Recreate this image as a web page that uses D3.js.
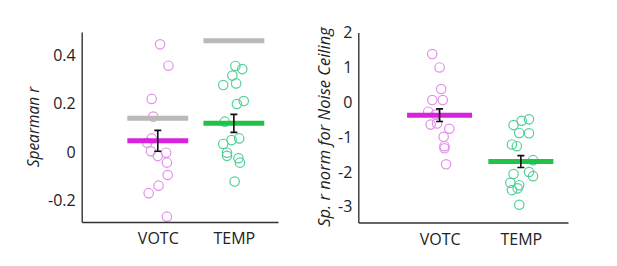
<!DOCTYPE html>
<html>
<head>
<meta charset="utf-8">
<script src="https://cdn.jsdelivr.net/npm/d3@7"></script>
<style>
  body { margin: 0; background: white; }
  text { font-family: "Open Sans", sans-serif; fill: #222; }
</style>
</head>
<body>
<div id="canvas"></div>
<script>
"use strict"

let svgWidth = 617
let svgHeight = 266

/* categories and tick labels */
let categories = ["VOTC", "TEMP"]
let leftTicks = [-0.2, 0, 0.2, 0.4]
let rightTicks = [-3, -2, -1, 0, 1, 2]

/* left panel: Spearman r per subject */
let leftVotc = [0.444, 0.356, 0.219, 0.146, 0.056, 0.038, 0.003, -0.017, -0.003, -0.044, -0.095, -0.139, -0.170, -0.267]
let leftVotcJitter = [0.03, 0.14, -0.08, -0.06, -0.08, -0.14, -0.09, 0, 0.11, 0.12, 0.13, 0.01, -0.12, 0.12]
let leftTemp = [0.355, 0.342, 0.315, 0.276, 0.283, 0.198, 0.210, 0.125, 0.056, 0.049, 0.033, -0.003, -0.016, -0.026, -0.044, -0.122]
let leftTempJitter = [0.02, 0.11, -0.02, -0.14, 0.03, 0.04, 0.13, -0.12, 0.07, -0.03, -0.14, -0.09, -0.09, 0.06, 0.08, 0.01]
let leftMeans = [0.046, 0.118]
let leftSE = [0.043, 0.037]
let leftCeiling = [0.139, 0.459]

/* right panel: normalised by noise ceiling */
let rightVotc = [1.385, 1.00, 0.38, 0.063, 0.063, -0.27, -0.35, -0.64, -0.61, -0.76, -0.99, -1.26, -1.32, -1.78]
let rightVotcJitter = [-0.09, 0, 0.02, -0.09, 0.04, -0.14, -0.05, -0.11, -0.03, 0.12, 0.05, 0.06, 0.06, 0.08]
let rightTemp = [-0.655, -0.53, -0.49, -0.88, -0.89, -1.21, -1.26, -1.66, -2.0, -2.12, -2.06, -2.31, -2.38, -2.47, -2.52, -2.94]
let rightTempJitter = [-0.09, 0.01, 0.10, -0.02, 0.10, -0.11, -0.05, 0.15, 0.10, 0.15, -0.09, -0.13, -0.02, -0.04, -0.11, -0.02]
let rightMeans = [-0.37, -1.70]
let rightSE = [0.18, 0.17]

let pointColors = ["#e290e8", "#52d097"]
let meanColors = ["#d823dc", "#20c24a"]
let ceilingColor = "#b9b9b9"

let svg = d3.select("#canvas")
    .append("svg")
    .attr("width", svgWidth)
    .attr("height", svgHeight)

function drawPanel(p) {
    let xScale = d3.scaleLinear()
        .domain([0, 2.58])
        .range([p.left, p.right])

    let yScale = d3.scaleLinear()
        .domain(p.domain)
        .range([p.bottom, p.top])

    let g = svg.append("g")

    // subject points
    p.points.forEach(function(vals, i) {
        g.selectAll("circle.pt" + i)
            .data(vals)
            .join("circle")
            .attr("class", "pt" + i)
            .attr("cx", function(d, j) { return xScale(i + 1 + p.jitter[i][j]) })
            .attr("cy", function(d) { return yScale(d) })
            .attr("r", 4.7)
            .attr("fill", "none")
            .attr("stroke", pointColors[i])
            .attr("stroke-width", 1.2)
    })

    // noise ceiling bars
    if (p.ceiling) {
        g.selectAll("line.ceiling")
            .data(p.ceiling)
            .join("line")
            .attr("class", "ceiling")
            .attr("x1", function(d, i) { return xScale(i + 1 - 0.4) })
            .attr("x2", function(d, i) { return xScale(i + 1 + 0.4) })
            .attr("y1", function(d) { return yScale(d) })
            .attr("y2", function(d) { return yScale(d) })
            .attr("stroke", ceilingColor)
            .attr("stroke-width", 5)
    }

    // mean bars
    g.selectAll("line.mean")
        .data(p.means)
        .join("line")
        .attr("class", "mean")
        .attr("x1", function(d, i) { return xScale(i + 1 - 0.4) })
        .attr("x2", function(d, i) { return xScale(i + 1 + 0.4) })
        .attr("y1", function(d) { return yScale(d) })
        .attr("y2", function(d) { return yScale(d) })
        .attr("stroke", function(d, i) { return meanColors[i] })
        .attr("stroke-width", 5)

    // error bars
    p.means.forEach(function(m, i) {
        let cx = xScale(i + 1)
        let lo = yScale(m - p.se[i])
        let hi = yScale(m + p.se[i])
        g.append("path")
            .attr("d", "M" + (cx - 3.5) + "," + hi + "H" + (cx + 3.5) +
                       "M" + cx + "," + hi + "V" + lo +
                       "M" + (cx - 3.5) + "," + lo + "H" + (cx + 3.5))
            .attr("fill", "none")
            .attr("stroke", "#111")
            .attr("stroke-width", 1.6)
    })

    // y axis
    let yAxis = g.append("g")
        .attr("transform", "translate(" + p.left + ",0)")
        .call(d3.axisLeft(yScale).tickValues(p.ticks).tickSize(0).tickPadding(6)
            .tickFormat(function(d) { return d === 0 ? "0" : String(d) }))
    yAxis.select(".domain").attr("stroke", "#333").attr("stroke-width", 1.4)
    yAxis.selectAll("text").style("font-size", "16px").attr("fill", "#222")

    // x axis
    let xAxis = g.append("g")
        .attr("transform", "translate(0," + p.bottom + ")")
        .call(d3.axisBottom(xScale).tickValues([1, 2]).tickSize(0).tickPadding(11)
            .tickFormat(function(d) { return categories[d - 1] }))
    xAxis.select(".domain").attr("stroke", "#333").attr("stroke-width", 1.4)
    xAxis.selectAll("text").style("font-size", "16px").attr("fill", "#222")

    // y label
    g.append("text")
        .attr("transform", "translate(" + p.labelX + "," + p.labelY + ") rotate(-90)")
        .attr("text-anchor", "middle")
        .attr("dominant-baseline", "central")
        .style("font-size", p.labelSize)
        .style("font-style", "italic")
        .text(p.label)
}

drawPanel({
    left: 81.7, right: 278, top: 32, bottom: 222,
    domain: [-0.289, 0.495],
    ticks: leftTicks,
    points: [leftVotc, leftTemp],
    jitter: [leftVotcJitter, leftTempJitter],
    means: leftMeans, se: leftSE, ceiling: leftCeiling,
    label: "Spearman r", labelX: 33, labelY: 127, labelSize: "15.5px"
})

drawPanel({
    left: 358.3, right: 568, top: 32.6, bottom: 222.5,
    domain: [-3.45, 2],
    ticks: rightTicks,
    points: [rightVotc, rightTemp],
    jitter: [rightVotcJitter, rightTempJitter],
    means: rightMeans, se: rightSE, ceiling: null,
    label: "Sp. r norm for Noise Ceiling", labelX: 323, labelY: 127, labelSize: "16.5px"
})
</script>
</body>
</html>
